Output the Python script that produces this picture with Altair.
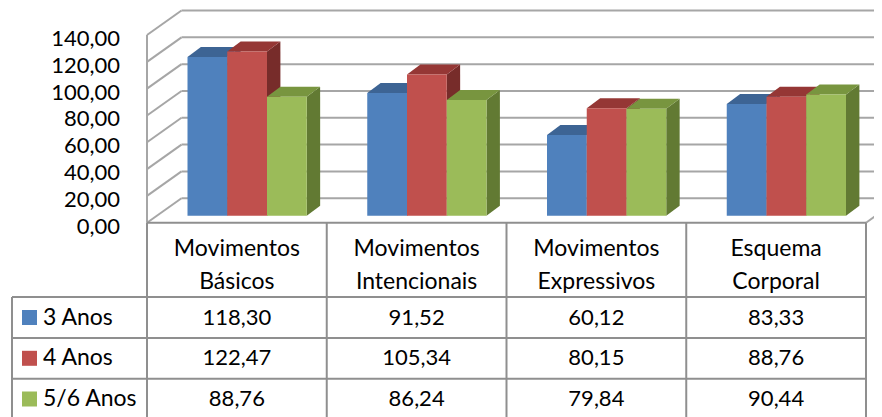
import altair as alt
import pandas as pd

# ---------------- data ----------------
categories = ["Movimentos Básicos", "Movimentos Intencionais",
              "Movimentos Expressivos", "Esquema Corporal"]
cat_line1 = ["Movimentos", "Movimentos", "Movimentos", "Esquema"]
cat_line2 = ["Básicos", "Intencionais", "Expressivos", "Corporal"]
series = ["3 Anos", "4 Anos", "5/6 Anos"]
values_3 = [118.30, 91.52, 60.12, 83.33]
values_4 = [122.47, 105.34, 80.15, 88.76]
values_56 = [88.76, 86.24, 79.84, 90.44]
y_ticks = [0, 20, 40, 60, 80, 100, 120, 140]

front_colors = ["#4F81BD", "#C0504D", "#9BBB59"]
top_colors = ["#3D6494", "#953735", "#78953F"]
side_colors = ["#30507A", "#772C2A", "#627A33"]

FONT = "Lato"
FS = 22        # numbers
FS_WORD = 23   # words
GRID = "#A6A6A6"
TABLE_LINE = "#8F8F8F"

# ---------------- layout (pixels, chart coordinates) ----------------
W, H = 866, 409
CAT_PX = 179.75          # width of one category column
X0 = 139.0               # left edge of first category column
Y0 = 214.7               # zero line of the front plane
PXU = 1.3407             # pixels per value unit


def ux(px):
    return (px - X0) / CAT_PX


def vy(py):
    return (Y0 - py) / PXU


xs = alt.Scale(domain=[ux(0), ux(W)], nice=False, zero=False)
ys = alt.Scale(domain=[vy(H), vy(0)], nice=False, zero=False)


def X(f):
    return alt.X(f, type="quantitative", scale=xs, axis=None)


def Y(f):
    return alt.Y(f, type="quantitative", scale=ys, axis=None)


WALL_DX = 34.5 / CAT_PX
WALL_DY = 24.5 / PXU
BAR_OFF = 40.5 / CAT_PX
BAR_W = 39.75 / CAT_PX
BAR_BASE = 7.0 / PXU
BAR_DX = 13.4 / CAT_PX
BAR_DY = 10.0 / PXU
NCAT = len(categories)

layers = []

# ---------------- walls ----------------
back = pd.DataFrame({"x": WALL_DX, "x2": ux(W) + 0.1,
                     "y": [t + WALL_DY for t in y_ticks]})
layers.append(alt.Chart(back).mark_rule(color=GRID, strokeWidth=2).encode(
    x=X("x"), x2="x2", y=Y("y")))

diag = pd.DataFrame({"x": 0.0, "x2": WALL_DX, "y": y_ticks,
                     "y2": [t + WALL_DY for t in y_ticks]})
layers.append(alt.Chart(diag).mark_rule(color=GRID, strokeWidth=2).encode(
    x=X("x"), x2="x2", y=Y("y"), y2="y2"))

front_edge = pd.DataFrame({"x": [0.0], "y": [0.0], "y2": [max(y_ticks)]})
layers.append(alt.Chart(front_edge).mark_rule(color=GRID, strokeWidth=2).encode(
    x=X("x"), y=Y("y"), y2="y2"))

floor = pd.DataFrame({"x": [float(NCAT)], "x2": [NCAT + WALL_DX],
                      "y": [0.0], "y2": [WALL_DY]})
layers.append(alt.Chart(floor).mark_rule(color=GRID, strokeWidth=2).encode(
    x=X("x"), x2="x2", y=Y("y"), y2="y2"))

# ---------------- bars ----------------
all_vals = [values_3, values_4, values_56]
for s, name in enumerate(series):
    rows_f, rows_t, rows_s = [], [], []
    for i, v in enumerate(all_vals[s]):
        xl = i + BAR_OFF + s * BAR_W
        xr = xl + BAR_W
        top = BAR_BASE + v
        bid = f"{s}-{i}"
        rows_f.append({"x": xl, "x2": xr, "y": BAR_BASE, "y2": top})
        rows_t.append({"id": bid, "y": top, "x": xl, "x2": xr})
        rows_t.append({"id": bid, "y": top + BAR_DY, "x": xl + BAR_DX, "x2": xr + BAR_DX})
        rows_s.append({"id": bid, "x": xr, "y": BAR_BASE, "y2": top})
        rows_s.append({"id": bid, "x": xr + BAR_DX, "y": BAR_BASE + BAR_DY, "y2": top + BAR_DY})
    layers.append(alt.Chart(pd.DataFrame(rows_s)).mark_area(
        orient="vertical", color=side_colors[s]).encode(
        x=X("x"), y=Y("y"), y2="y2", detail="id:N"))
    layers.append(alt.Chart(pd.DataFrame(rows_t)).mark_area(
        orient="horizontal", color=top_colors[s]).encode(
        y=Y("y"), x=X("x"), x2="x2", detail="id:N"))
    layers.append(alt.Chart(pd.DataFrame(rows_f)).mark_rect(
        color=front_colors[s]).encode(
        x=X("x"), x2="x2", y=Y("y"), y2="y2"))

# ---------------- y labels ----------------
ylab = pd.DataFrame({"x": ux(112), "y": y_ticks,
                     "t": [f"{t:.2f}".replace(".", ",") for t in y_ticks]})
layers.append(alt.Chart(ylab).mark_text(
    align="right", baseline="middle", dy=4, font=FONT, fontSize=FS, color="black").encode(
    x=X("x"), y=Y("y"), text="t:N"))

# ---------------- table ----------------
HEADER_BOTTOM = 289.0
ROW_BOTTOMS = [330.0, 370.7]
ROW_CENTERS = [309.5, 350.3, 391.0]
LEG_LEFT = 4.0

hl = pd.DataFrame({"x": ux(LEG_LEFT), "x2": float(NCAT),
                   "y": [vy(HEADER_BOTTOM)] + [vy(b) for b in ROW_BOTTOMS]})
layers.append(alt.Chart(hl).mark_rule(color=TABLE_LINE, strokeWidth=2).encode(
    x=X("x"), x2="x2", y=Y("y")))
top_line = pd.DataFrame({"x": [0.0], "x2": [float(NCAT)], "y": [0.0]})
layers.append(alt.Chart(top_line).mark_rule(color=TABLE_LINE, strokeWidth=2).encode(
    x=X("x"), x2="x2", y=Y("y")))
vl = pd.DataFrame({"x": [float(i) for i in range(NCAT + 1)],
                   "y": 0.0, "y2": vy(H + 10)})
layers.append(alt.Chart(vl).mark_rule(color=TABLE_LINE, strokeWidth=2).encode(
    x=X("x"), y=Y("y"), y2="y2"))
vl0 = pd.DataFrame({"x": [ux(LEG_LEFT)], "y": [vy(HEADER_BOTTOM)], "y2": [vy(H + 10)]})
layers.append(alt.Chart(vl0).mark_rule(color=TABLE_LINE, strokeWidth=2).encode(
    x=X("x"), y=Y("y"), y2="y2"))

hdr = pd.DataFrame({"x": [i + 0.5 for i in range(NCAT)] * 2,
                    "y": [vy(241.0)] * NCAT + [vy(273.7)] * NCAT,
                    "t": cat_line1 + cat_line2})
layers.append(alt.Chart(hdr).mark_text(
    align="center", baseline="middle", font=FONT, fontSize=FS_WORD, color="black").encode(
    x=X("x"), y=Y("y"), text="t:N"))

cells = []
for s, name in enumerate(series):
    for i, v in enumerate(all_vals[s]):
        cells.append({"x": i + 0.5, "y": vy(ROW_CENTERS[s]),
                      "t": f"{v:.2f}".replace(".", ",")})
layers.append(alt.Chart(pd.DataFrame(cells)).mark_text(
    align="center", baseline="middle", font=FONT, fontSize=FS, color="black").encode(
    x=X("x"), y=Y("y"), text="t:N"))

leg = pd.DataFrame({"series": series, "xs": ux(21.5), "xt": ux(35.0),
                    "y": [vy(c) for c in ROW_CENTERS]})
layers.append(alt.Chart(leg).mark_square(size=225, opacity=1).encode(
    x=X("xs"), y=Y("y"),
    color=alt.Color("series:N", scale=alt.Scale(domain=series, range=front_colors),
                    legend=None)))
layers.append(alt.Chart(leg).mark_text(
    align="left", baseline="middle", font=FONT, fontSize=FS_WORD, color="black").encode(
    x=X("xt"), y=Y("y"), text="series:N"))

chart = alt.layer(*layers).properties(
    width=W, height=H, padding=0,
    autosize=alt.AutoSizeParams(type="none"),
    background="white",
).configure_view(stroke=None)

chart.save("out.html", embed_options={"renderer": "svg", "actions": False})
